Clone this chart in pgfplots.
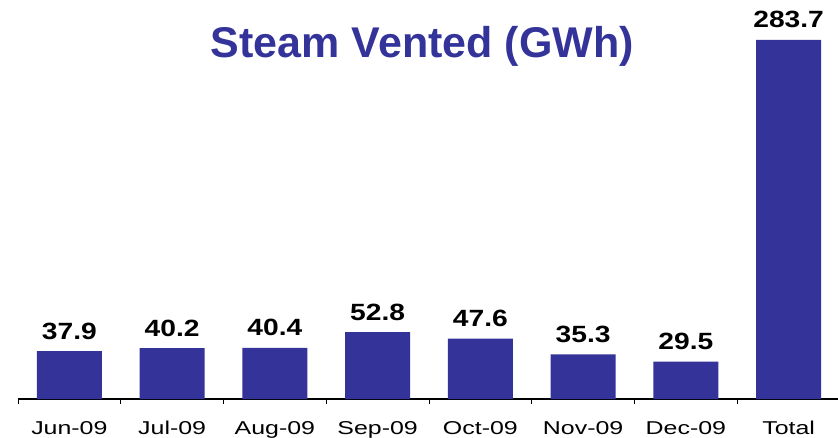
\documentclass[border=0pt]{standalone}
\usepackage{fontspec}
\setmainfont{Liberation Sans}
\newfontfamily\tickfont[FakeStretch=1.34]{Liberation Sans}
\newfontfamily\datafont[FakeStretch=1.2]{Liberation Sans}
\usepackage{pgfplots}
\pgfplotsset{compat=1.18}
\definecolor{barblue}{HTML}{333399}
\begin{document}
\begin{tikzpicture}
\useasboundingbox (-18bp,-39bp) rectangle (820bp,399bp);
\begin{axis}[
  scale only axis,
  width=822bp, height=399bp,
  xmin=-0.5, xmax=7.5,
  ymin=0, ymax=315.2,
  axis x line*=bottom,
  axis y line=none,
  axis line style={line width=1.2bp, black},
  xtick={0,...,7},
  xticklabels={Jun-09,Jul-09,Aug-09,Sep-09,Oct-09,Nov-09,Dec-09,Total},
  major tick length=0pt,
  minor xtick={-0.5,0.5,...,6.5},
  minor tick length=5bp,
  tick align=outside,
  minor tick style={line width=0.8bp, black},
  xticklabel style={font=\tickfont\fontsize{18.6bp}{20bp}\selectfont, anchor=base, yshift=-35bp},
  ybar,
  bar width=65bp,
  clip=false,
  nodes near coords={\pgfmathprintnumber[fixed,fixed zerofill,precision=1,assume math mode=true]{\pgfplotspointmeta}},
  every node near coord/.append style={font=\datafont\bfseries\fontsize{23.5bp}{25bp}\selectfont, anchor=base, yshift=12bp, inner sep=0pt, black},
]
\addplot[draw=none, fill=barblue] coordinates {
  (0,37.9) (1,40.2) (2,40.4) (3,52.8) (4,47.6) (5,35.3) (6,29.5) (7,283.7)
};
\node[anchor=base, text=barblue, font=\bfseries\fontsize{43bp}{45bp}\selectfont, inner sep=0pt] at (rel axis cs:0.492,0.855) {Steam Vented (GWh)};
\end{axis}
\end{tikzpicture}
\end{document}
